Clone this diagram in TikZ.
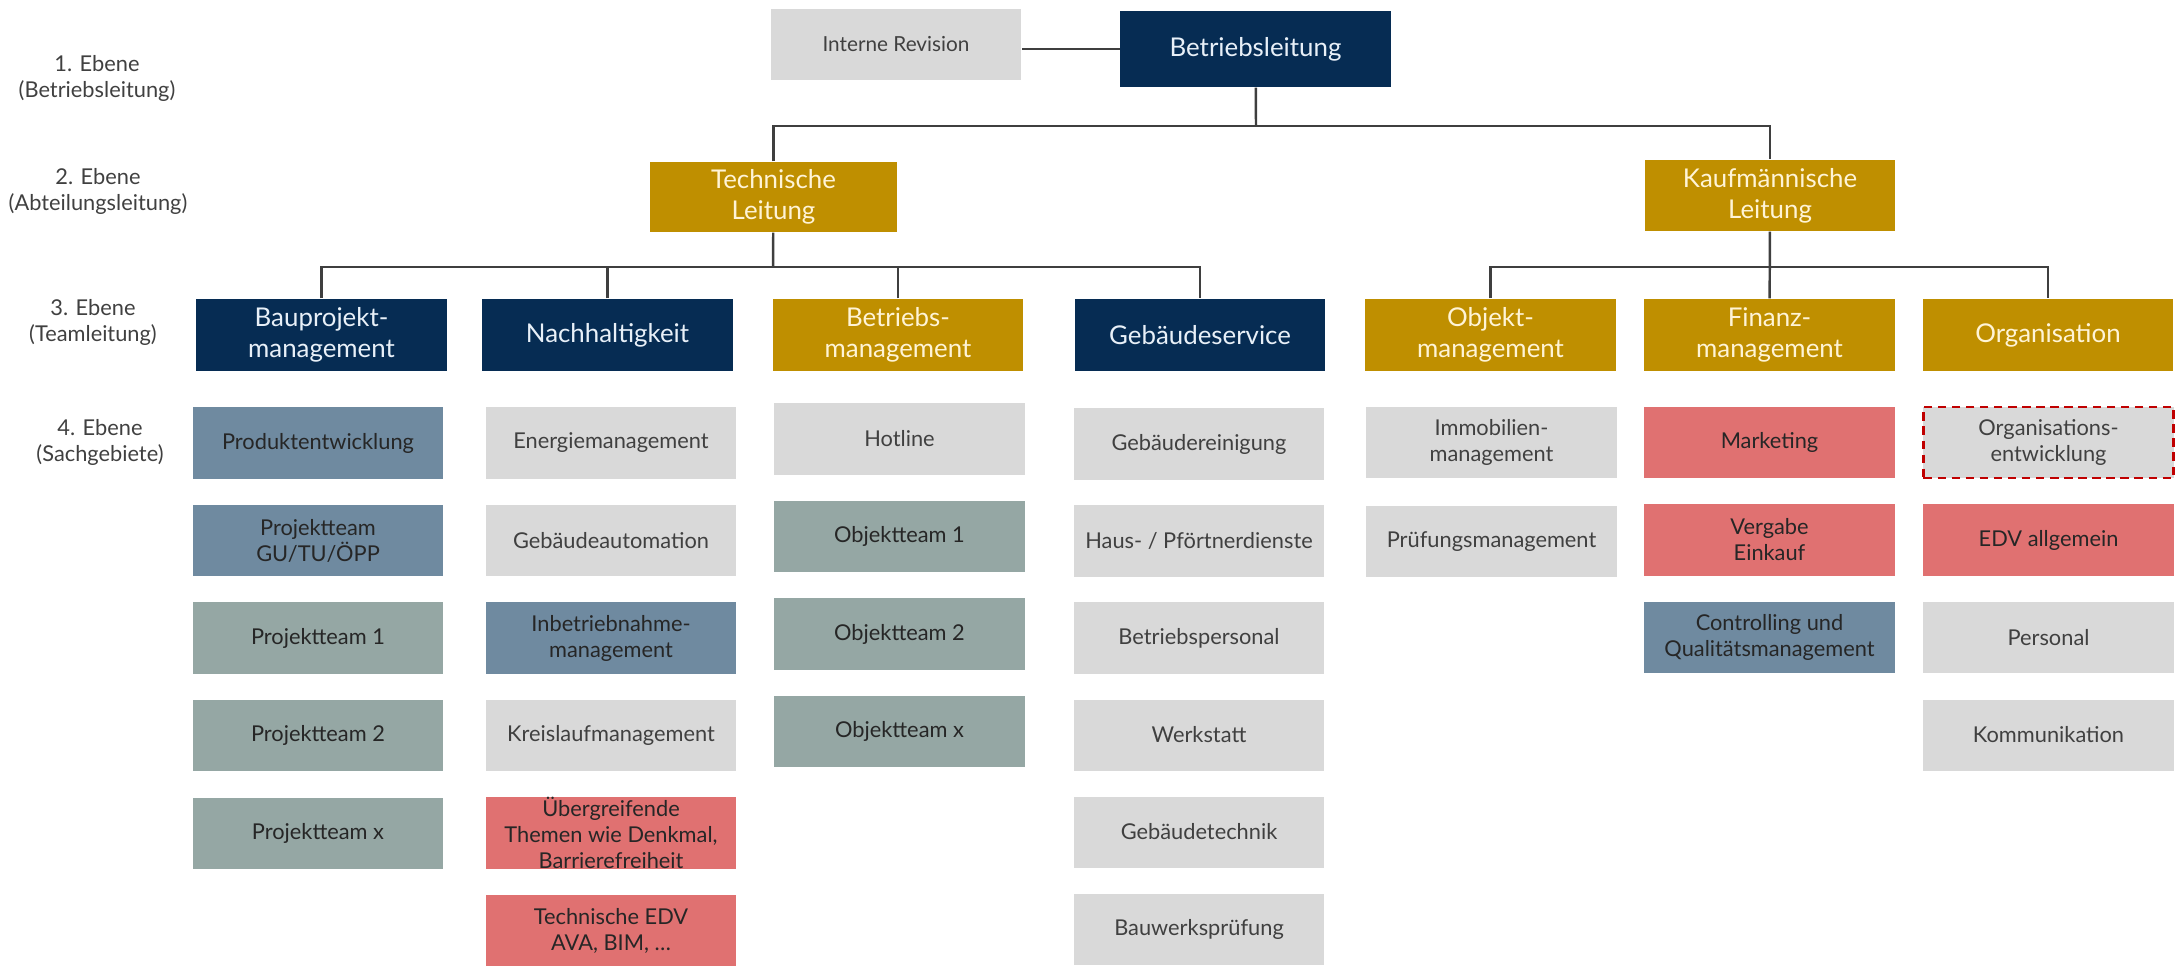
\documentclass[tikz,border=0pt]{standalone}
\usepackage{fontspec}
\setmainfont{Lato}
\usetikzlibrary{positioning,calc}
\definecolor{navy}{HTML}{062C53}
\definecolor{gold}{HTML}{BF8F00}
\definecolor{lgray}{HTML}{D9D9D9}
\definecolor{steel}{HTML}{6F8AA0}
\definecolor{sage}{HTML}{95A7A4}
\definecolor{salmon}{HTML}{E07171}
\definecolor{darkred}{HTML}{C00000}
\definecolor{linegray}{HTML}{3F3F3F}
\definecolor{lighttxt}{HTML}{E8F0F8}
\definecolor{creamtxt}{HTML}{FFF4D6}
\tikzset{
  box/.style={rectangle, minimum width=2.5cm, minimum height=0.71cm, inner sep=0pt,
    align=center, font=\fontsize{6.2}{7.4}\selectfont, text=black!85},
  head/.style={box, minimum height=0.72cm, font=\fontsize{7.35}{8.9}\selectfont},
  navybox/.style={head, fill=navy, text=lighttxt},
  goldbox/.style={head, fill=gold, text=creamtxt},
  graybox/.style={box, fill=lgray, text=black!75},
  steelbox/.style={box, fill=steel},
  sagebox/.style={box, fill=sage},
  redbox/.style={box, fill=salmon},
  dashbox/.style={graybox, draw=darkred, line width=0.8pt, dash pattern=on 2.4pt off 1.6pt},
  level/.style={align=center, font=\fontsize{6.2}{7.4}\selectfont, text=black!75},
  conn/.style={draw=linegray, line width=0.7pt},
}
\begin{document}
\begin{tikzpicture}[x=0.01cm, y=-0.01cm]
  \useasboundingbox (0,0) rectangle (2183,969);
  % level labels
  \node[level] (e1) at (97,78)  {1. Ebene\\(Betriebsleitung)};
  \node[level] (e2) at (98,191) {2. Ebene\\(Abteilungsleitung)};
  \node[level] (e3) at (93,322) {3. Ebene\\(Teamleitung)};
  \node[level] (e4) at (100,442) {4. Ebene\\(Sachgebiete)};
  % 1. Ebene
  \node[navybox, minimum width=2.7cm, minimum height=0.76cm] (bl) at (1255.5,49) {Betriebsleitung};
  \node[graybox, font=\fontsize{5.9}{7}\selectfont] (rev) at (896,44.5) {Interne Revision};
  % 2. Ebene
  \node[goldbox, minimum width=2.47cm, minimum height=0.7cm] (tl) at (773.5,197) {Technische\\Leitung};
  \node[goldbox, minimum height=0.71cm] (kl) at (1770,195.5) {Kaufmännische\\Leitung};
  % 3. Ebene
  \node[navybox] (bau)  at (321.5,335) {Bauprojekt-\\management};
  \node[navybox] (nach) at (607.5,335) {Nachhaltigkeit};
  \node[goldbox] (betr) at (898,335)   {Betriebs-\\management};
  \node[navybox] (geb)  at (1200,335)  {Gebäudeservice};
  \node[goldbox] (obj)  at (1490.5,335) {Objekt-\\management};
  \node[goldbox] (fin)  at (1769.5,335) {Finanz-\\management};
  \node[goldbox] (org)  at (2048,335)  {Organisation};
  % connectors
  \coordinate (bus1) at (1256,126);
  \coordinate (bus2) at (773,267);
  \coordinate (bus3) at (1770,267);
  \draw[conn] (bl.west) -- (bl.west -| rev.east);
  \draw[conn] (bl) -- (bus1);
  \draw[conn] (tl.north) |- (bus1) -| (kl.north);
  \draw[conn] (tl) -- (bus2);
  \draw[conn] (bau.north) |- (bus2) -| (geb.north);
  \draw[conn] (nach.north) -- (nach.north |- bus2);
  \draw[conn] (betr.north) -- (betr.north |- bus2);
  \draw[conn] (kl) -- (fin);
  \draw[conn] (obj.north) |- (bus3) -| (org.north);
  % 4. Ebene
  \foreach \txt/\sty [count=\i] in {Produktentwicklung/steelbox, {Projektteam\\GU/TU/ÖPP}/steelbox,
      Projektteam 1/sagebox, Projektteam 2/sagebox, Projektteam x/sagebox}
    \node[\sty] (bau\i) at (318,{443+97.5*(\i-1)}) {\txt};
  \foreach \txt/\sty [count=\i] in {Energiemanagement/graybox, Gebäudeautomation/graybox,
      {Inbetriebnahme-\\management}/steelbox, Kreislaufmanagement/graybox,
      {Übergreifende\\Themen wie Denkmal,\\Barrierefreiheit}/redbox, {Technische EDV\\AVA, BIM, \dots}/redbox}
    \node[\sty] (nach\i) at (611,{443+97.5*(\i-1)}) {\txt};
  \foreach \txt/\sty [count=\i] in {Hotline/graybox, Objektteam 1/sagebox, Objektteam 2/sagebox, Objektteam x/sagebox}
    \node[\sty] (betr\i) at (899.5,{439+97.5*(\i-1)}) {\txt};
  \foreach \txt/\sty [count=\i] in {Gebäudereinigung/graybox, {Haus- / Pförtnerdienste}/graybox,
      Betriebspersonal/graybox, Werkstatt/graybox, Gebäudetechnik/graybox, Bauwerksprüfung/graybox}
    \node[\sty] (geb\i) at (1199,{444+97*(\i-1)}) {\txt};
  \foreach \txt/\sty [count=\i] in {{Immobilien-\\management}/graybox, Prüfungsmanagement/graybox}
    \node[\sty] (obj\i) at (1491.5,{442.5+99*(\i-1)}) {\txt};
  \foreach \txt/\sty [count=\i] in {Marketing/redbox, {Vergabe\\Einkauf}/redbox,
      {Controlling und\\Qualitätsmanagement}/steelbox}
    \node[\sty] (fin\i) at (1769.5,{442.5+97.5*(\i-1)}) {\txt};
  \foreach \txt/\sty [count=\i] in {{Organisations-\\entwicklung}/dashbox, EDV allgemein/redbox,
      Personal/graybox, Kommunikation/graybox}
    \node[\sty] (org\i) at (2048.5,{442.5+97.5*(\i-1)}) {\txt};
\end{tikzpicture}
\end{document}
